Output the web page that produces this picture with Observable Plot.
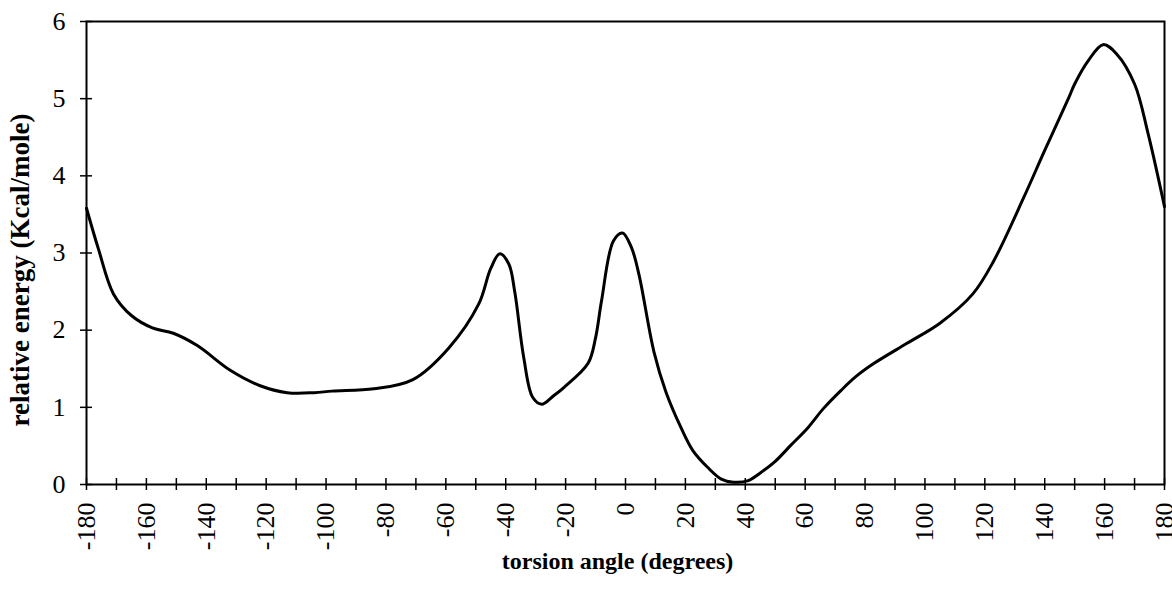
<!DOCTYPE html>
<html>
<head>
<meta charset="utf-8">
<script src="https://cdn.jsdelivr.net/npm/d3@7"></script>
<script src="https://cdn.jsdelivr.net/npm/@observablehq/plot@0.6"></script>
<style>
  html, body { margin: 0; padding: 0; background: white; }
</style>
</head>
<body>
<div id="chart"></div>
<script>
const angles = [-180, -176, -171, -165, -158, -151, -143, -132, -122, -113, -104, -98, -84, -71, -59, -49, -45, -42, -39, -37, -34, -31, -28, -24, -20.5, -12.5, -10, -8, -4, -1, 2, 4.5, 9.5, 13.5, 18.5, 22.5, 27.5, 32, 36, 41, 45, 50, 55, 61, 66, 72, 77, 83, 94, 105, 116, 123, 133, 140, 148, 150, 154.5, 159.5, 164, 170, 174.5, 180];
const energies = [3.58, 3.05, 2.47, 2.19, 2.03, 1.96, 1.80, 1.48, 1.28, 1.19, 1.19, 1.21, 1.24, 1.36, 1.77, 2.34, 2.80, 2.99, 2.86, 2.50, 1.65, 1.13, 1.04, 1.15, 1.26, 1.57, 1.90, 2.38, 3.16, 3.26, 3.07, 2.72, 1.72, 1.20, 0.74, 0.44, 0.22, 0.07, 0.03, 0.05, 0.15, 0.30, 0.50, 0.74, 0.98, 1.22, 1.40, 1.57, 1.83, 2.09, 2.47, 2.90, 3.72, 4.33, 5.01, 5.19, 5.49, 5.70, 5.58, 5.19, 4.55, 3.60];
const xTicks = d3.range(-180, 181, 10);
const yTicks = [0, 1, 2, 3, 4, 5, 6];
const xTitle = "torsion angle (degrees)";
const yTitle = "relative energy (Kcal/mole)";

const data = angles.map((a, i) => ({angle: a, energy: energies[i]}));

const chart = Plot.plot({
  width: 1172,
  height: 589,
  marginLeft: 86,
  marginRight: 8,
  marginTop: 21,
  marginBottom: 105,
  style: {fontFamily: "'Liberation Serif', 'DejaVu Serif', serif", fontSize: "26px", color: "black", background: "white", overflow: "visible"},
  x: {domain: [-180, 180]},
  y: {domain: [0, 6]},
  marks: [
    Plot.line(data, {x: "angle", y: "energy", stroke: "black", strokeWidth: 3, curve: "catmull-rom"}),
    Plot.frame({stroke: "black", strokeWidth: 2}),
    Plot.axisX({ticks: xTicks, tickSize: 6, tickPadding: 12, tickRotate: -90, strokeWidth: 1.5, fontSize: 26,
      tickFormat: d => (d % 20 === 0 ? String(d) : ""), label: null}),
    Plot.axisX({ticks: xTicks, tickSize: -6, strokeWidth: 1.5, tickFormat: () => "", label: null}),
    Plot.axisY({ticks: yTicks, tickSize: 6, tickPadding: 15, strokeWidth: 1.5, fontSize: 26, tickFormat: d => String(d), label: null}),
    Plot.axisY({ticks: yTicks, tickSize: -6, strokeWidth: 1.5, tickFormat: () => "", label: null}),
    Plot.text([xTitle], {frameAnchor: "bottom", dx: -8, dy: 84, fontWeight: "bold", fontSize: 24, fill: "black"}),
    Plot.text([yTitle], {frameAnchor: "left", textAnchor: "middle", rotate: -90, dx: -66, dy: 17, fontWeight: "bold", fontSize: 27, fill: "black"})
  ]
});
document.getElementById("chart").appendChild(chart);
</script>
</body>
</html>
